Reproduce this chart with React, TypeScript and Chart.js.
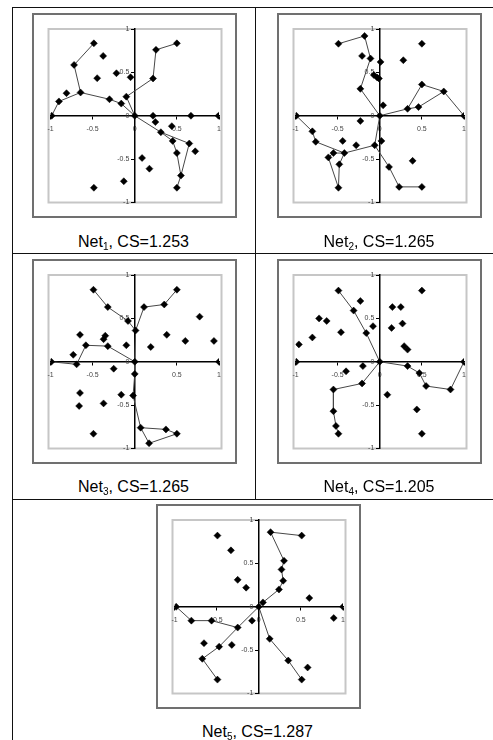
import React, { useEffect, useRef } from "react";
import { Chart, registerables } from "chart.js";

Chart.register(...registerables);

type Pt = [number, number];

// ---- data ----
const axisMin = -1;
const axisMax = 1;
const tickStep = 0.5;

const netNames = ["1", "2", "3", "4", "5"];
const csValues = ["1.253", "1.265", "1.265", "1.205", "1.287"];

const net1Points: Pt[] = [
  [-0.485, 0.835], [-0.72, 0.586], [-0.375, 0.69], [-0.446, 0.433], [-0.217, 0.49],
  [-0.05, 0.444], [-0.643, 0.268], [-0.81, 0.26], [-0.9, 0.165], [-0.986, 0],
  [-0.3, 0.19], [-0.16, 0.14], [0, 0], [-0.1, 0.22], [0.217, 0.43],
  [0.252, 0.76], [0.5, 0.835], [0.217, 0], [0.667, 0], [0.994, 0],
  [0.245, -0.073], [0.44, -0.12], [0.31, -0.19], [0.45, -0.29], [0.647, -0.32],
  [0.718, -0.41], [0.5, -0.43], [0.548, -0.69], [0.5, -0.83], [0.087, -0.487],
  [0.174, -0.61], [-0.13, -0.755], [-0.485, -0.83],
];
const net1Paths: number[][] = [
  [0, 1, 6, 8, 9],
  [6, 10, 11, 12],
  [12, 13, 14, 15, 16],
  [12, 22, 24, 27, 28],
  [22, 23, 26, 27],
];

const net2Points: Pt[] = [
  [-0.49, 0.83], [-0.18, 0.92], [-0.21, 0.69], [-0.11, 0.66], [0.01, 0.62],
  [0.28, 0.64], [0.5, 0.83], [-0.07, 0.47], [-0.03, 0.44], [-0.01, 0.43],
  [-0.23, 0.31], [0.04, 0.12], [0, 0], [-0.99, 0], [1, 0],
  [0.5, 0.36], [0.76, 0.28], [0.33, 0.08], [0.46, 0.1], [-0.23, -0.06],
  [-0.8, -0.18], [-0.76, -0.3], [-0.44, -0.29], [-0.28, -0.34], [-0.06, -0.34],
  [0.02, -0.29], [-0.42, -0.43], [-0.55, -0.43], [-0.61, -0.48], [-0.48, -0.56],
  [-0.49, -0.83], [0.11, -0.59], [0.23, -0.82], [0.5, -0.82], [0.39, -0.52],
];
const net2Paths: number[][] = [
  [0, 1, 3, 10, 12],
  [7, 9],
  [12, 17, 15, 16, 14],
  [17, 18, 16],
  [13, 20, 21, 26, 24, 12],
  [26, 27, 28, 30, 29, 26],
  [24, 31, 32, 33],
];

const net3Points: Pt[] = [
  [-0.49, 0.83], [-0.32, 0.63], [-0.08, 0.47], [0.01, 0.36], [0.11, 0.63],
  [0.35, 0.66], [0.5, 0.83], [0.77, 0.52], [-0.65, 0.31], [-0.35, 0.3],
  [-0.37, 0.26], [-0.1, 0.19], [0.19, 0.17], [0.38, 0.31], [0.6, 0.24],
  [0.94, 0.24], [-0.58, 0.19], [-0.32, 0.18], [-0.73, 0.08], [-0.99, 0],
  [-0.69, -0.03], [0, 0], [1, 0], [-0.25, -0.08], [0, -0.14],
  [-0.65, -0.36], [-0.66, -0.51], [-0.37, -0.48], [-0.16, -0.38], [-0.02, -0.39],
  [0.07, -0.76], [0.37, -0.78], [0.5, -0.83], [0.17, -0.94], [-0.49, -0.83],
];
const net3Paths: number[][] = [
  [0, 1, 2, 3, 21],
  [3, 4, 5, 6],
  [19, 20, 16, 17, 21],
  [21, 24, 29, 30, 31, 32, 33, 30],
];

const net4Points: Pt[] = [
  [-0.49, 0.82], [-0.23, 0.7], [-0.31, 0.59], [-0.72, 0.5], [-0.63, 0.47],
  [-0.08, 0.41], [-0.16, 0.33], [-0.46, 0.34], [-0.8, 0.28], [-0.96, 0.2],
  [-0.99, 0], [0, 0], [1, 0], [0.15, 0.63], [0.25, 0.63],
  [0.5, 0.82], [0.14, 0.39], [0.27, 0.44], [0.29, 0.18], [0.33, 0.14],
  [-0.4, -0.11], [-0.2, -0.05], [-0.21, -0.25], [-0.55, -0.32], [-0.55, -0.57],
  [-0.52, -0.74], [-0.49, -0.83], [0.33, -0.05], [0.47, -0.13], [0.55, -0.28],
  [0.84, -0.32], [0.09, -0.38], [0.44, -0.55], [0.5, -0.83],
];
const net4Paths: number[][] = [
  [0, 2, 6, 11],
  [11, 27, 28, 29, 30, 12],
  [11, 22, 23, 24, 25, 26],
];

const net5Points: Pt[] = [
  [-0.49, 0.82], [-0.33, 0.65], [-0.25, 0.31], [-0.15, 0.22], [0.14, 0.86],
  [0.51, 0.82], [0.3, 0.53], [0.27, 0.43], [0.29, 0.3], [0.24, 0.2],
  [0.05, 0.05], [0, 0], [0.6, 0.1], [1, 0], [-0.98, 0],
  [-0.8, -0.16], [-0.56, -0.16], [-0.25, -0.24], [-0.08, -0.16], [0.89, -0.13],
  [0.13, -0.37], [0.35, -0.62], [0.51, -0.84], [0.58, -0.7], [-0.65, -0.42],
  [-0.47, -0.46], [-0.32, -0.44], [-0.67, -0.6], [-0.49, -0.84],
];
const net5Paths: number[][] = [
  [5, 4, 6, 7, 8, 9, 10, 11],
  [14, 15, 16, 17, 11],
  [17, 25, 27, 28],
  [11, 20, 21, 22],
];

const allPoints = [net1Points, net2Points, net3Points, net4Points, net5Points];
const allPaths = [net1Paths, net2Paths, net3Paths, net4Paths, net5Paths];

// ---- layout ----
const BOX = 205;
const boxPos = [
  { left: 32, top: 13 },
  { left: 277, top: 13 },
  { left: 32, top: 259 },
  { left: 277, top: 259 },
  { left: 156, top: 504 },
];
const labelPos = [
  { left: 12, width: 243, top: 233 },
  { left: 255, width: 248, top: 233 },
  { left: 12, width: 243, top: 478 },
  { left: 255, width: 248, top: 478 },
  { left: 12, width: 491, top: 723 },
];
const rules = [
  { left: 12, top: 7, width: 481, height: 1 },
  { left: 12, top: 7, width: 1, height: 733 },
  { left: 255, top: 7, width: 1, height: 492 },
  { left: 12, top: 253, width: 481, height: 1 },
  { left: 12, top: 499, width: 481, height: 1 },
];

const plotBorder = {
  id: "plotBorder",
  beforeDraw(chart: any) {
    const { ctx, chartArea } = chart;
    ctx.save();
    ctx.strokeStyle = "#c6c6c6";
    ctx.lineWidth = 2;
    ctx.strokeRect(
      chartArea.left - 2,
      chartArea.top,
      chartArea.right - chartArea.left + 4.5,
      chartArea.bottom - chartArea.top
    );
    ctx.restore();
  },
};

const tickFont = { family: "'Liberation Sans', Arial, sans-serif", size: 7 };

function NetChart({ points, paths }: { points: Pt[]; paths: number[][] }) {
  const ref = useRef<HTMLCanvasElement>(null);
  useEffect(() => {
    const datasets: any[] = [
      {
        type: "scatter",
        data: points.map(([x, y]) => ({ x, y })),
        pointStyle: "rectRot",
        pointRadius: 3.5,
        pointBackgroundColor: "#000",
        pointBorderColor: "#000",
        pointBorderWidth: 0.5,
        showLine: false,
        order: 0,
      },
      ...paths.map((p) => ({
        type: "scatter",
        data: p.map((i) => ({ x: points[i][0], y: points[i][1] })),
        showLine: true,
        borderColor: "#474747",
        borderWidth: 1,
        pointRadius: 0,
        fill: false,
        order: 1,
      })),
    ];
    const gridCommon = { drawOnChartArea: false, drawTicks: true, tickLength: 3, color: "#000", lineWidth: 1 };
    const borderCommon = { display: true, color: "#000", width: 1.5 };
    const chart = new Chart(ref.current!, {
      type: "scatter",
      data: { datasets },
      options: {
        animation: false,
        responsive: false,
        devicePixelRatio: 1,
        events: [],
        layout: { padding: { left: 18.5, right: 18, top: 16, bottom: 15.5 } },
        plugins: { legend: { display: false }, tooltip: { enabled: false } },
        scales: {
          x: {
            type: "linear",
            position: { y: 0 },
            min: axisMin,
            max: axisMax,
            grid: gridCommon,
            border: borderCommon,
            ticks: {
              stepSize: tickStep,
              font: tickFont,
              color: "#444",
              padding: 6,
              autoSkip: false,
              maxRotation: 0,
              callback: (v: any) => String(Number(v)),
            },
          } as any,
          y: {
            type: "linear",
            position: { x: 0 },
            min: axisMin,
            max: axisMax,
            grid: gridCommon,
            border: borderCommon,
            ticks: {
              stepSize: tickStep,
              font: tickFont,
              color: "#444",
              padding: 4,
              autoSkip: false,
              callback: (v: any) => String(Number(v)) + "\u2002 ",
            },
          } as any,
        },
      },
      plugins: [plotBorder],
    } as any);
    return () => chart.destroy();
  }, [points, paths]);
  return (
    <canvas
      ref={ref}
      width={BOX}
      height={BOX}
      style={{ position: "absolute", left: 0, top: 0, width: BOX, height: BOX }}
    />
  );
}

export default function App() {
  return (
    <div
      style={{
        position: "fixed",
        left: 0,
        top: 0,
        width: 493,
        height: 740,
        overflow: "hidden",
        background: "#fff",
        fontFamily: "'Liberation Sans', Arial, sans-serif",
      }}
    >
      {rules.map((r, i) => (
        <div key={"r" + i} style={{ position: "absolute", background: "#111", ...r }} />
      ))}
      {boxPos.map((b, i) => (
        <div
          key={"b" + i}
          style={{ position: "absolute", left: b.left, top: b.top, width: BOX, height: BOX, background: "#fff" }}
        >
          <NetChart points={allPoints[i]} paths={allPaths[i]} />
          <div
            style={{
              position: "absolute",
              left: 0,
              top: 0,
              width: BOX,
              height: BOX,
              boxSizing: "border-box",
              border: "2px solid #707070",
              pointerEvents: "none",
            }}
          />
        </div>
      ))}
      {labelPos.map((l, i) => (
        <div
          key={"l" + i}
          style={{
            position: "absolute",
            left: l.left,
            top: l.top,
            width: l.width,
            textAlign: "center",
            fontSize: 16,
            lineHeight: "18px",
            color: "#000",
            whiteSpace: "nowrap",
          }}
        >
          Net
          <span style={{ fontSize: 10, position: "relative", top: 3 }}>{netNames[i]}</span>, CS={csValues[i]}
        </div>
      ))}
    </div>
  );
}
